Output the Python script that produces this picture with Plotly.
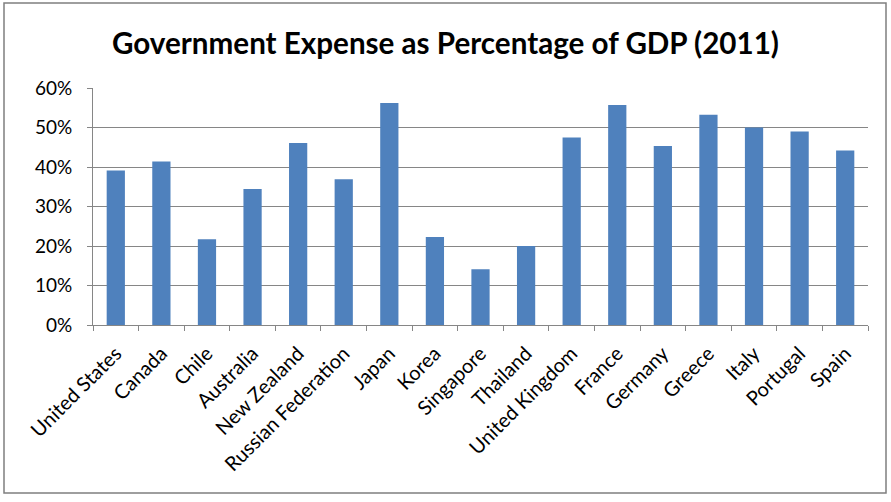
import plotly.graph_objects as go

countries = ["United States", "Canada", "Chile", "Australia", "New Zealand",
             "Russian Federation", "Japan", "Korea", "Singapore", "Thailand",
             "United Kingdom", "France", "Germany", "Greece", "Italy",
             "Portugal", "Spain"]
expense_pct = [39.1, 41.4, 21.7, 34.4, 46.1, 36.9, 56.2, 22.3, 14.1, 20.0,
               47.5, 55.7, 45.3, 53.2, 50.0, 49.0, 44.2]
y_ticks = [0, 10, 20, 30, 40, 50, 60]
y_tick_labels = ["0%", "10%", "20%", "30%", "40%", "50%", "60%"]

W, H = 891, 502
ml, mr, mt, mb = 93, 23, 88, 177
pw, ph = W - ml - mr, H - mt - mb

def px_x(p):
    return (p - ml) / pw

def px_y(p):
    return (H - mb - p) / ph

fig = go.Figure(go.Bar(
    x=countries, y=expense_pct,
    marker=dict(color="#4F81BD", line=dict(width=0)),
    width=0.4,
))

fig.update_layout(
    width=W, height=H,
    margin=dict(l=ml, r=mr, t=mt, b=mb, autoexpand=False),
    paper_bgcolor="white", plot_bgcolor="white",
    font=dict(family="Lato, Open Sans, sans-serif", color="#000000"),
    title=dict(text="<b>Government Expense as Percentage of GDP (2011)</b>",
               x=0.5, xanchor="center", xref="container", y=1 - 44 / H, yanchor="middle",
               font=dict(size=29.6, family="Lato, sans-serif", color="#000000")),
    showlegend=False,
    shapes=[dict(type="rect", xref="paper", yref="paper",
                 x0=px_x(4), x1=px_x(886), y0=px_y(493), y1=px_y(3),
                 line=dict(color="#7F7F7F", width=1.5), fillcolor="rgba(0,0,0,0)",
                 layer="below")],
)

fig.update_xaxes(
    type="category", tickangle=-45, tickson="boundaries",
    ticks="outside", ticklen=5, tickcolor="#868686",
    showline=True, linecolor="#868686", linewidth=1,
    showgrid=False, automargin=False, ticklabelstandoff=8,
    tickfont=dict(size=20, family="Lato, sans-serif", color="#000000"),
)
fig.update_yaxes(
    range=[0, 60], tickvals=y_ticks, ticktext=y_tick_labels,
    ticks="outside", ticklen=5, tickcolor="#868686",
    showline=True, linecolor="#868686", linewidth=1,
    showgrid=True, gridcolor="#868686", gridwidth=1,
    zeroline=False, automargin=False, ticklabelstandoff=11,
    tickfont=dict(size=19, family="Lato, sans-serif", color="#000000"),
)

fig.write_html("out.html", config={"displayModeBar": False},
               post_script="document.body.style.margin='0';")
